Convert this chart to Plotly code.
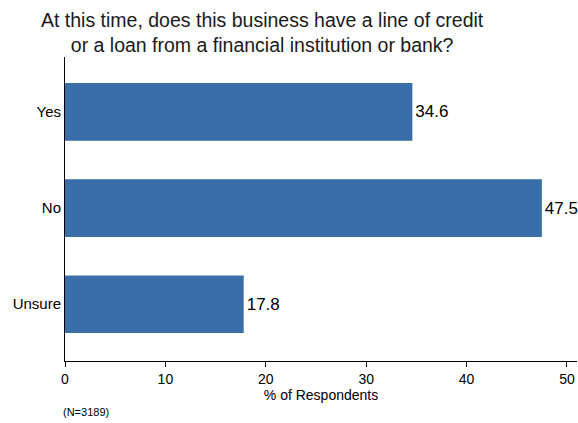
import plotly.graph_objects as go

categories = ["Yes", "No", "Unsure"]
values = [34.6, 47.5, 17.8]
x_ticks = [0, 10, 20, 30, 40, 50]

fig = go.Figure()
fig.add_trace(go.Bar(
    y=list(range(len(categories))),
    x=values,
    orientation="h",
    width=0.6,
    marker=dict(color="#3a6ea8", line=dict(width=0)),
    text=[f"{v:.1f}" for v in values],
    textposition="outside",
    textfont=dict(family="Liberation Sans, Arial", size=17, color="#000000"),
    cliponaxis=False,
))

fig.update_layout(
    width=578, height=423,
    margin=dict(l=65, r=1, t=57, b=62, autoexpand=False),
    paper_bgcolor="white", plot_bgcolor="white",
    showlegend=False,
    font=dict(family="Liberation Sans, Arial", color="#000000"),
    xaxis=dict(
        range=[0, 51], tickvals=x_ticks, ticktext=[str(t) for t in x_ticks],
        showgrid=False, zeroline=False, showline=True, linecolor="#000000", linewidth=1,
        ticks="outside", ticklen=5, tickcolor="#000000", automargin=False,
        tickfont=dict(size=14), title=dict(text="% of Respondents", font=dict(size=14), standoff=0),
    ),
    yaxis=dict(
        range=[2.59, -0.57], tickvals=list(range(len(categories))), ticktext=categories,
        showgrid=False, zeroline=False, showline=True, linecolor="#000000", linewidth=1,
        ticks="", tickfont=dict(size=15), automargin=False,
    ),
)
fig.add_annotation(
    text="At this time, does this business have a line of credit<br>or a loan from a financial institution or bank?",
    xref="paper", yref="paper", x=0.385, y=1.0, yshift=50, xanchor="center", yanchor="top",
    showarrow=False, font=dict(size=19.5, color="#1a1a1a"), align="center",
)
fig.add_annotation(text="(N=3189)", xref="paper", yref="paper", x=-0.008, y=-0.14,
                   xanchor="left", yanchor="top", showarrow=False, font=dict(size=11))

fig.write_html("out.html", config={"displayModeBar": False},
               post_script="document.body.style.margin='0';document.body.style.overflow='hidden';")
